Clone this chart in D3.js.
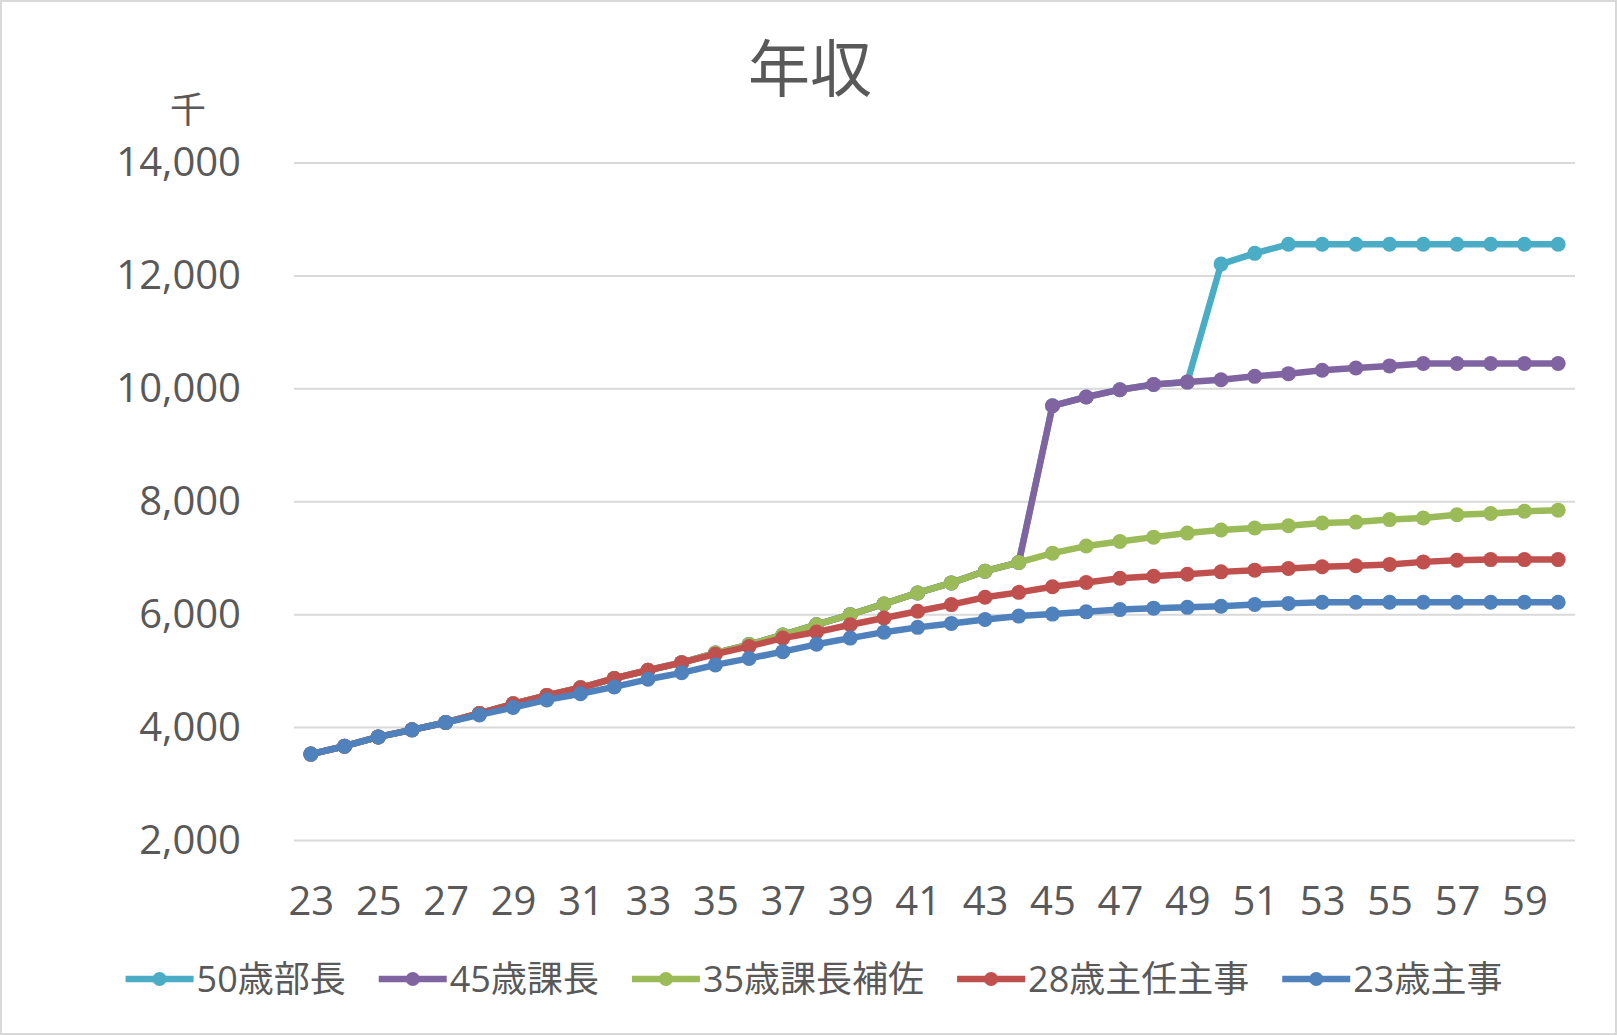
<!DOCTYPE html>
<html>
<head>
<meta charset="utf-8">
<script src="https://cdn.jsdelivr.net/npm/d3@7"></script>
<style>
  html, body { margin: 0; padding: 0; background: #fff; }
  svg { display: block; }
  text { fill: #595959; }
</style>
</head>
<body>
<div id="chart"></div>
<script>
// ages (category axis)
const ages = [23, 24, 25, 26, 27, 28, 29, 30, 31, 32, 33, 34, 35, 36, 37, 38, 39, 40, 41,
  42, 43, 44, 45, 46, 47, 48, 49, 50, 51, 52, 53, 54, 55, 56, 57, 58, 59, 60];

// 年収 (千円)
const bucho50 = [3530, 3670, 3835, 3960, 4090, 4250, 4420, 4570, 4705, 4870, 5015, 5150, 5320, 5470, 5640, 5822,
  6000, 6190, 6385, 6563, 6770, 6925, 9700, 9855, 9985, 10078, 10119,
  12209, 12400, 12560, 12560, 12560, 12560, 12560, 12560, 12560, 12560, 12560];
const kacho45 = [3530, 3670, 3835, 3960, 4090, 4250, 4420, 4570, 4705, 4870, 5015, 5150, 5320, 5470, 5640, 5822,
  6000, 6190, 6385, 6563, 6770, 6925, 9700, 9855, 9985, 10078, 10119, 10161, 10221, 10269,
  10328, 10370, 10406, 10448, 10448, 10448, 10448, 10448];
const hosa35 = [3530, 3670, 3835, 3960, 4090, 4250, 4420, 4570, 4705, 4870, 5015, 5150, 5320, 5470, 5640, 5822,
  6000, 6190, 6385, 6563, 6770, 6925, 7090, 7215, 7296, 7373, 7445, 7500, 7534, 7576,
  7624, 7640, 7684, 7713, 7770, 7791, 7833, 7851];
const shunin28 = [3530, 3670, 3835, 3960, 4090, 4250, 4420, 4570, 4705, 4870, 5015, 5150, 5300, 5437, 5585, 5692,
  5822, 5941, 6060, 6178, 6308, 6395, 6495, 6570, 6645, 6680, 6716, 6758, 6788, 6818,
  6848, 6866, 6890, 6935, 6965, 6975, 6975, 6975];
const shuji23 = [3530, 3670, 3835, 3960, 4090, 4225, 4355, 4490, 4600, 4720, 4855, 4970, 5110, 5225, 5345, 5475,
  5585, 5690, 5775, 5845, 5915, 5975, 6010, 6050, 6090, 6115, 6130, 6150, 6180, 6200,
  6220, 6220, 6220, 6220, 6220, 6220, 6220, 6220];

const seriesNames = ["50歳部長", "45歳課長", "35歳課長補佐", "28歳主任主事", "23歳主事"];
const seriesValues = [bucho50, kacho45, hosa35, shunin28, shuji23];
const colors = ["#4BACC6", "#8064A2", "#9BBB59", "#C0504D", "#4F81BD"];
const yTicks = [2000, 4000, 6000, 8000, 10000, 12000, 14000];

const W = 1617, H = 1035;
const plot = { left: 294, right: 1575, top: 163, bottom: 840.5 };

const svg = d3.select("#chart").append("svg")
  .attr("width", W)
  .attr("height", H);

svg.append("rect")
  .attr("x", 1).attr("y", 1)
  .attr("width", W - 2).attr("height", H - 2)
  .attr("fill", "#fff")
  .attr("stroke", "#d9d9d9")
  .attr("stroke-width", 2);

const x = d3.scalePoint()
  .domain(ages)
  .range([plot.left, plot.right])
  .padding(0.5);

const y = d3.scaleLinear()
  .domain([2000, 14000])
  .range([plot.bottom, plot.top]);

// gridlines
svg.append("g")
  .selectAll("line")
  .data(yTicks)
  .join("line")
    .attr("x1", plot.left)
    .attr("x2", plot.right)
    .attr("y1", d => y(d))
    .attr("y2", d => y(d))
    .attr("stroke", "#d9d9d9")
    .attr("stroke-width", 2);

// y axis labels
const yAxis = svg.append("g")
  .attr("transform", `translate(${plot.left}, 0)`)
  .call(d3.axisLeft(y).tickValues(yTicks).tickFormat(d3.format(",")).tickSize(0).tickPadding(53));
yAxis.select(".domain").remove();
yAxis.selectAll("text")
  .style("font-family", "'Open Sans', 'Noto Sans', sans-serif")
  .style("font-size", "40px")
  .attr("fill", "#595959");

// x axis labels
const xAxis = svg.append("g")
  .attr("transform", `translate(0, ${plot.bottom})`)
  .call(d3.axisBottom(x).tickValues(ages.filter((d, i) => i % 2 === 0)).tickSize(0).tickPadding(46));
xAxis.select(".domain").remove();
xAxis.selectAll("text")
  .style("font-family", "'Open Sans', 'Noto Sans', sans-serif")
  .style("font-size", "40px")
  .attr("fill", "#595959");

// lines
const line = d3.line()
  .x((d, i) => x(ages[i]))
  .y(d => y(d));

seriesValues.forEach((vals, k) => {
  const g = svg.append("g");
  g.append("path")
    .datum(vals)
    .attr("d", line)
    .attr("fill", "none")
    .attr("stroke", colors[k])
    .attr("stroke-width", 6.5)
    .attr("stroke-linejoin", "round")
    .attr("stroke-linecap", "round");
  g.selectAll("circle")
    .data(vals)
    .join("circle")
      .attr("cx", (d, i) => x(ages[i]))
      .attr("cy", d => y(d))
      .attr("r", 7.5)
      .attr("fill", colors[k]);
});

// title
svg.append("text")
  .attr("x", 810)
  .attr("y", 92)
  .attr("text-anchor", "middle")
  .style("font-family", "'Noto Sans CJK JP', sans-serif")
  .style("font-size", "62px")
  .text("年収");

// unit label
svg.append("text")
  .attr("x", 188)
  .attr("y", 123)
  .attr("text-anchor", "middle")
  .style("font-family", "'Noto Sans CJK JP', sans-serif")
  .style("font-size", "36px")
  .text("千");

// legend
const legendY = 979;
const lineLen = 68, textGap = 3, itemGap = 33;
const legend = svg.append("g");
const items = legend.selectAll("g")
  .data(seriesNames)
  .join("g");
items.append("line")
  .attr("x1", 0).attr("x2", lineLen)
  .attr("y1", 0).attr("y2", 0)
  .attr("stroke", (d, i) => colors[i])
  .attr("stroke-width", 6.5);
items.append("circle")
  .attr("cx", lineLen / 2).attr("cy", 0)
  .attr("r", 7)
  .attr("fill", (d, i) => colors[i]);
items.append("text")
  .attr("x", lineLen + textGap)
  .attr("dy", "0.36em")
  .style("font-family", "'Open Sans', 'Noto Sans CJK JP', sans-serif")
  .style("font-size", "36px")
  .text(d => d);

let widths = [];
items.each(function() {
  widths.push(lineLen + textGap + d3.select(this).select("text").node().getComputedTextLength());
});
const total = d3.sum(widths) + itemGap * (widths.length - 1);
let cx = 814 - total / 2;
items.attr("transform", (d, i) => {
  const t = `translate(${cx}, ${legendY})`;
  cx += widths[i] + itemGap;
  return t;
});
</script>
</body>
</html>
